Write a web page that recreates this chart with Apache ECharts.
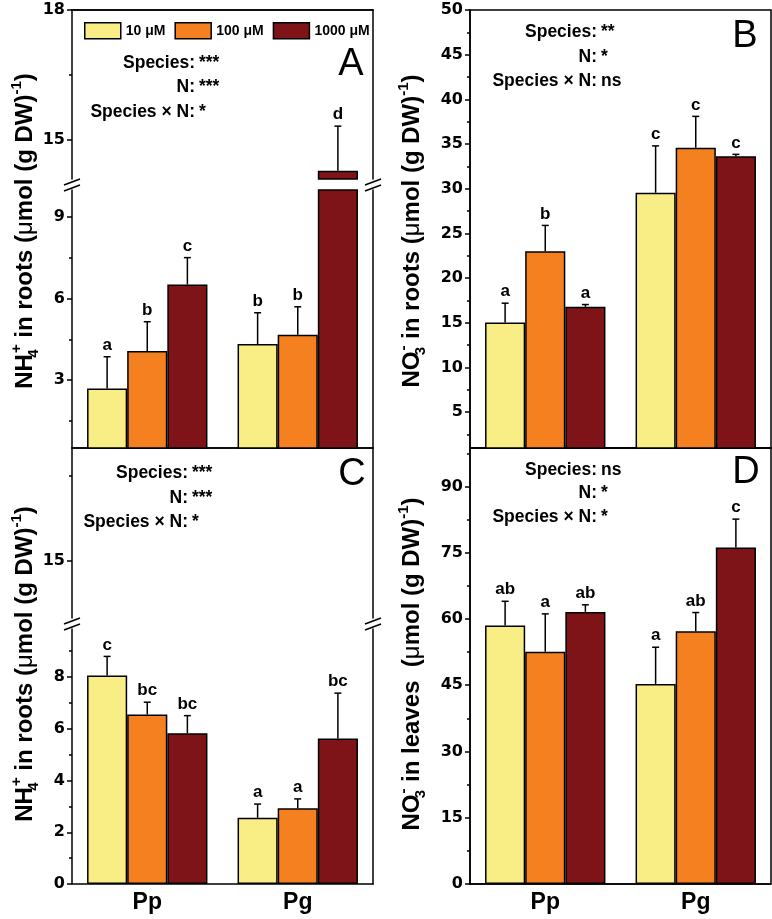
<!DOCTYPE html>
<html><head><meta charset="utf-8">
<script src="https://cdn.jsdelivr.net/npm/echarts@6/dist/echarts.min.js"></script>
<style>html,body{margin:0;padding:0;background:#fff}#c{width:772px;height:919px}</style>
</head><body><div id="c"></div>
<script>
// ---------- data ----------
const categories = ['Pp', 'Pg'];
const seriesNames = ['10 μM', '100 μM', '1000 μM'];

// Panel A: NH4+ in roots
const A_10 = [2.69, 4.33],  A_10_err = [1.17, 1.15],  A_10_sig = ['a', 'b'];
const A_100 = [4.07, 4.67], A_100_err = [1.08, 1.03], A_100_sig = ['b', 'b'];
const A_1000 = [6.52, 14.29], A_1000_err = [0.99, 1.03], A_1000_sig = ['c', 'd'];
// Panel B: NO3- in roots
const B_10 = [15.03, 29.55], B_10_err = [2.17, 5.25], B_10_sig = ['a', 'c'];
const B_100 = [23.0, 34.6],  B_100_err = [2.9, 3.5],  B_100_sig = ['b', 'c'];
const B_1000 = [16.8, 33.65], B_1000_err = [0.25, 0.2], B_1000_sig = ['a', 'c'];
// Panel C: NH4+ in roots
const C_10 = [8.06, 2.56], C_10_err = [0.74, 0.53], C_10_sig = ['c', 'a'];
const C_100 = [6.55, 2.93], C_100_err = [0.48, 0.36], C_100_sig = ['bc', 'a'];
const C_1000 = [5.83, 5.63], C_1000_err = [0.68, 1.75], C_1000_sig = ['bc', 'bc'];
// Panel D: NO3- in leaves
const D_10 = [58.5, 45.3], D_10_err = [5.5, 8.3], D_10_sig = ['ab', 'a'];
const D_100 = [52.55, 57.2], D_100_err = [8.6, 4.25], D_100_sig = ['a', 'ab'];
const D_1000 = [61.6, 76.2], D_1000_err = [1.6, 6.4], D_1000_sig = ['ab', 'c'];

// axis ranges and tick values
const A_hi_range = [14.1, 18], A_hi_major = [15, 18], A_hi_minor = [16.5];
const A_lo_range = [0.5, 10], A_lo_major = [3, 6, 9], A_lo_minor = [1.5, 4.5, 7.5];
const B_range = [1, 50], B_major = [5, 10, 15, 20, 25, 30, 35, 40, 45, 50];
const B_minor = [2.5, 7.5, 12.5, 17.5, 22.5, 27.5, 32.5, 37.5, 42.5, 47.5];
const C_hi_range = [13.66, 17.65], C_hi_major = [15], C_hi_minor = [17];
const C_lo_range = [0, 9.86], C_lo_major = [0, 2, 4, 6, 8], C_lo_minor = [1, 3, 5, 7, 9];
const D_range = [0, 98.7], D_major = [0, 15, 30, 45, 60, 75, 90];
const D_minor = [7.5, 22.5, 37.5, 52.5, 67.5, 82.5, 97.5];

// statistics annotations
const statLabels = ['Species:', 'N:', 'Species × N:'];
const A_stats = ['***', '***', '*'];
const B_stats = ['**', '*', 'ns'];
const C_stats = ['***', '***', '*'];
const D_stats = ['ns', '*', '*'];

// ---------- style / layout ----------
const FF = 'Liberation Sans, Arial, Helvetica, sans-serif';
const FT = 'DejaVu Sans, Liberation Sans, sans-serif';
const COLORS = ['#F9EE86', '#F58020', '#7E1418'];
const grids = [
  {left: 72, top: 10, width: 301, height: 169},   // A upper
  {left: 72, top: 190, width: 301, height: 258},  // A lower
  {left: 470, top: 10, width: 301, height: 438, show: true, borderColor: '#000', borderWidth: 1.5}, // B
  {left: 72, top: 448, width: 301, height: 170},  // C upper
  {left: 72, top: 629, width: 301, height: 255},  // C lower
  {left: 470, top: 448, width: 301, height: 436, show: true, borderColor: '#000', borderWidth: 1.5}  // D
];

const xAxes = [], yAxes = [], series = [];
const LINE = {color: '#000', width: 1.5};

function addGrid(gi, cfg) {
  const xi = xAxes.length;
  xAxes.push({
    type: 'category', gridIndex: gi, data: categories, position: cfg.xPos,
    axisLine: {show: true, onZero: false, lineStyle: LINE},
    axisTick: {show: false},
    axisLabel: {show: !!cfg.xLabels, color: '#000', fontSize: 23, fontWeight: 'bold', fontFamily: FF, margin: 7},
    splitLine: {show: false}
  });
  const yi = yAxes.length;
  yAxes.push({
    type: 'value', gridIndex: gi, min: cfg.range[0], max: cfg.range[1], position: 'left', offset: 0,
    axisLine: {show: true, onZero: false, lineStyle: LINE},
    axisTick: {show: true, length: 5, lineStyle: LINE, customValues: cfg.major},
    axisLabel: {show: true, customValues: cfg.major, color: '#000', fontSize: 16, fontWeight: 'bold', fontFamily: FT, margin: 7},
    splitLine: {show: false}
  });
  yAxes.push({
    type: 'value', gridIndex: gi, min: cfg.range[0], max: cfg.range[1], position: 'left', offset: 0,
    axisLine: {show: false},
    axisTick: {show: true, length: 3, lineStyle: LINE, customValues: cfg.minor},
    axisLabel: {show: false},
    splitLine: {show: false}
  });
  if (cfg.rightLine) {
    yAxes.push({
      type: 'value', gridIndex: gi, min: cfg.range[0], max: cfg.range[1], position: 'right', offset: 0,
      axisLine: {show: true, onZero: false, lineStyle: LINE},
      axisTick: {show: false}, axisLabel: {show: false}, splitLine: {show: false}
    });
  }
  cfg.means.forEach((m, g) => {
    series.push({
      type: 'bar', name: seriesNames[g], xAxisIndex: xi, yAxisIndex: yi,
      data: m.map(v => v > cfg.range[0] ? v : '-'),
      barGap: '0%', barCategoryGap: '20%', clip: true,
      itemStyle: {color: COLORS[g], borderColor: '#000', borderWidth: 1.5}
    });
  });
  const errData = [], sigs = [];
  cfg.means.forEach((m, g) => {
    m.forEach((v, c) => {
      errData.push([c, g, v, cfg.errs[g][c]]);
      sigs.push(cfg.sigs[g][c]);
    });
  });
  series.push({
    type: 'custom', name: 'err', xAxisIndex: xi, yAxisIndex: yi, z: 5,
    encode: {x: 0, y: 2},
    data: errData,
    renderItem: function (params, api) {
      const c = api.value(0), g = api.value(1), v = api.value(2), e = api.value(3);
      const cs = params.coordSys;
      const band = api.size([1, 0])[0];
      const bw = band * 0.8 / 3;
      const p0 = api.coord([c, v]);
      const y0 = p0[1];
      if (y0 < cs.y - 0.5 || y0 > cs.y + cs.height + 0.5) return null;
      const x = p0[0] + (g - 1) * bw;
      const y1 = api.coord([c, v + e])[1];
      return {
        type: 'group', children: [
          {type: 'line', shape: {x1: x, y1: y0, x2: x, y2: y1}, style: {stroke: '#000', lineWidth: 1.5}},
          {type: 'line', shape: {x1: x - 3.5, y1: y1, x2: x + 3.5, y2: y1}, style: {stroke: '#000', lineWidth: 1.5}},
          {type: 'text', x: x, y: y1 - 3, style: {
            text: sigs[params.dataIndex], fill: '#000', fontSize: 17, fontWeight: 'bold', fontFamily: FF,
            textAlign: 'center', textVerticalAlign: 'bottom', align: 'center', verticalAlign: 'bottom'}}
        ]
      };
    }
  });
}

const A_means = [A_10, A_100, A_1000], A_errs = [A_10_err, A_100_err, A_1000_err], A_sigs = [A_10_sig, A_100_sig, A_1000_sig];
const B_means = [B_10, B_100, B_1000], B_errs = [B_10_err, B_100_err, B_1000_err], B_sigs = [B_10_sig, B_100_sig, B_1000_sig];
const C_means = [C_10, C_100, C_1000], C_errs = [C_10_err, C_100_err, C_1000_err], C_sigs = [C_10_sig, C_100_sig, C_1000_sig];
const D_means = [D_10, D_100, D_1000], D_errs = [D_10_err, D_100_err, D_1000_err], D_sigs = [D_10_sig, D_100_sig, D_1000_sig];

addGrid(0, {range: A_hi_range, major: A_hi_major, minor: A_hi_minor, xPos: 'top', rightLine: true,
  means: A_means, errs: A_errs, sigs: A_sigs});
addGrid(1, {range: A_lo_range, major: A_lo_major, minor: A_lo_minor, xPos: 'bottom', rightLine: true,
  means: A_means, errs: A_errs, sigs: A_sigs});
addGrid(2, {range: B_range, major: B_major, minor: B_minor, xPos: 'bottom',
  means: B_means, errs: B_errs, sigs: B_sigs});
addGrid(3, {range: C_hi_range, major: C_hi_major, minor: C_hi_minor, xPos: 'top', rightLine: true,
  means: C_means, errs: C_errs, sigs: C_sigs});
addGrid(4, {range: C_lo_range, major: C_lo_major, minor: C_lo_minor, xPos: 'bottom', xLabels: true, rightLine: true,
  means: C_means, errs: C_errs, sigs: C_sigs});
addGrid(5, {range: D_range, major: D_major, minor: D_minor, xPos: 'bottom', xLabels: true,
  means: D_means, errs: D_errs, sigs: D_sigs});

// ---------- decorations ----------
const graphic = [];
const RICH = {
  b: {fontSize: 24, fontWeight: 'bold', fontFamily: FF, lineHeight: 32, verticalAlign: 'middle', color: '#000'},
  mu: {fontSize: 24, fontWeight: 'normal', fontFamily: FF, lineHeight: 32, verticalAlign: 'middle', color: '#000'},
  sb: {fontSize: 15, fontWeight: 'bold', fontFamily: FF, lineHeight: 16, verticalAlign: 'bottom', width: 1, align: 'left', color: '#000'},
  sp: {fontSize: 15, fontWeight: 'bold', fontFamily: FF, lineHeight: 16, verticalAlign: 'top', color: '#000'}
};
function title(x, y, txt) {
  graphic.push({type: 'text', x: x, y: y, rotation: Math.PI / 2, style: {
    text: txt, rich: RICH, fill: '#000', textAlign: 'center', textVerticalAlign: 'middle', align: 'center', verticalAlign: 'middle'}});
}
title(25, 231, '{b|NH}{sb|4}{sp|+}{b| in roots (}{mu|μ}{b|mol (g DW)}{sp|-1}{b|)}');
title(412, 231, '{b|NO}{sb|3}{sp|-}{b| in roots (}{mu|μ}{b|mol (g DW)}{sp|-1}{b|)}');
title(25, 664, '{b|NH}{sb|4}{sp|+}{b| in roots (}{mu|μ}{b|mol (g DW)}{sp|-1}{b|)}');
title(412, 664, '{b|NO}{sb|3}{sp|-}{b| in leaves  (}{mu|μ}{b|mol (g DW)}{sp|-1}{b|)}');

function stats(X, ys, vals) {
  ys.forEach((y, i) => {
    graphic.push({type: 'text', x: X, y: y, style: {text: statLabels[i], fill: '#000', fontSize: 17.5, fontWeight: 'bold', fontFamily: FF,
      textAlign: 'right', textVerticalAlign: 'middle', align: 'right', verticalAlign: 'middle'}});
    graphic.push({type: 'text', x: X + 4, y: y, style: {text: vals[i], fill: '#000', fontSize: 17.5, fontWeight: 'bold', fontFamily: FF,
      textAlign: 'left', textVerticalAlign: 'middle', align: 'left', verticalAlign: 'middle'}});
  });
}
stats(195, [63, 87, 112], A_stats);
stats(597, [32, 57, 81], B_stats);
stats(188, [473, 498, 522], C_stats);
stats(597, [470, 493, 517], D_stats);

function letter(x, y, t) {
  graphic.push({type: 'text', x: x, y: y, style: {text: t, fill: '#000', fontSize: 38, fontFamily: FF,
    textAlign: 'center', textVerticalAlign: 'middle', align: 'center', verticalAlign: 'middle'}});
}
letter(351, 65, 'A'); letter(745, 37, 'B'); letter(352, 475, 'C'); letter(746, 473, 'D');

function breakMarks(gHi, gLo) {
  const yA = gHi.top + gHi.height + 3, yB = gLo.top - 2;
  [gHi.left, gHi.left + gHi.width].forEach(x => {
    [yA, yB].forEach(y => {
      graphic.push({type: 'line', shape: {x1: x - 8, y1: y + 3, x2: x + 8, y2: y - 3}, style: {stroke: '#000', lineWidth: 1.5}});
    });
  });
}
breakMarks(grids[0], grids[1]);
breakMarks(grids[3], grids[4]);

// top frame lines of the broken panels (A, C) come from top-positioned category axes
xAxes.push({type: 'category', gridIndex: 0, data: categories, position: 'top',
  axisLine: {show: true, onZero: false, lineStyle: LINE}, axisTick: {show: false}, axisLabel: {show: false}});

const chart = echarts.init(document.getElementById('c'), null, {renderer: 'canvas'});
chart.setOption({
  animation: false,
  backgroundColor: '#fff',
  grid: grids,
  xAxis: xAxes,
  yAxis: yAxes,
  legend: {
    data: seriesNames, left: 79, top: 17, itemWidth: 36, itemHeight: 16, itemGap: 9, icon: 'rect',
    selectedMode: false,
    itemStyle: {borderColor: '#000', borderWidth: 1.5},
    textStyle: {fontSize: 14, fontWeight: 'bold', color: '#000', fontFamily: FF}
  },
  series: series,
  graphic: graphic
});
</script></body></html>
